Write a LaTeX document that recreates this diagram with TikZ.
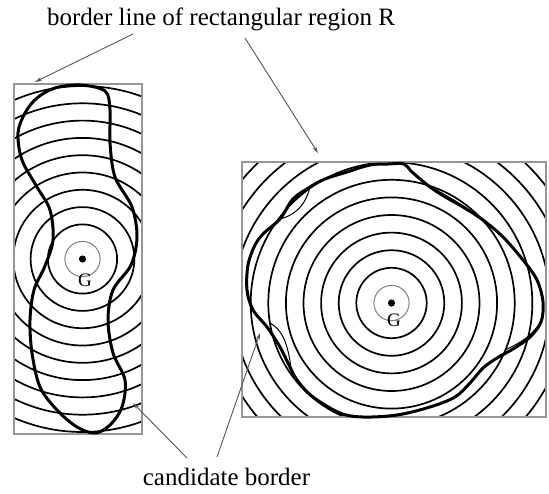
\documentclass[tikz,border=0pt]{standalone}
\usepackage{fontspec}
\setmainfont{Liberation Serif}
\usetikzlibrary{arrows.meta,calc}
\definecolor{RegionGray}{RGB}{150,150,150}
\definecolor{PointerGray}{RGB}{85,85,85}

\begin{document}
\begin{tikzpicture}[x=1pt,y=-1pt,
  region/.style={draw=RegionGray,line width=1.7pt},
  ring/.style={draw=black,line width=1.7pt},
  innerring/.style={draw=gray,line width=1pt},
  cand/.style={draw=black,line width=3pt,line join=round},
  lens/.style={draw=black,line width=1pt},
  ptr/.style={draw=PointerGray,line width=0.9pt,-{Stealth[length=7pt,width=4pt]}},
  lbl/.style={font=\fontsize{25}{28}\selectfont,inner sep=0pt},
  gname/.style={font=\fontsize{19}{21}\selectfont,inner sep=0pt}]
\useasboundingbox (0,0) rectangle (549,493);

% centres of gravity
\coordinate (gL) at (82.5,259);
\coordinate (gR) at (391.5,303);

% left region: rings clipped to the rectangle
\begin{scope}
\clip (14,84) rectangle (142,434);
\draw[innerring] (gL) circle (17.6pt);
\foreach \r in {2,...,11} {
   \draw[ring] (gL) circle (\r*17.3pt);
}
\end{scope}
\draw[region] (14,84) rectangle (142,434);

% right region
\begin{scope}
\clip (242,162) rectangle (546,417);
\draw[innerring] (gR) circle (17.6pt);
\foreach \r in {2,...,12} {
   \draw[ring] (gR) circle (\r*17.6pt);
}
\end{scope}
\draw[region] (242,162) rectangle (546,417);

% candidate borders
\draw[cand] plot[smooth cycle,tension=0.55] coordinates {
   (80,85) (105,91) (110,110) (110,143) (115,177) (132,207) (137,237)
   (131,265) (113,290) (108,320) (113,353) (125,380) (122,407)
   (110,425) (95,433) (77,427) (57,410) (40,387) (32,353) (30,320)
   (34,290) (45,266) (53,240) (50,210) (37,187) (22,160) (18,133)
   (25,113) (37,98) (55,88)};
\draw[cand] plot[smooth cycle,tension=0.55] coordinates {
   (388,164) (404,164) (412,172) (430,187) (447,198) (463,207) (483,220)
   (503,237) (523,260) (537,280) (543,302) (541,322) (530,337)
   (513,349) (497,358) (483,368) (470,383) (455,397) (430,407)
   (397,415) (363,417) (340,413) (313,397) (297,380) (288,363)
   (280,347) (267,327) (253,310) (247,290) (248,265) (255,245)
   (264,233) (280,219) (293,199) (310,187) (325,179) (347,172) (370,165)};
\draw[lens] (280,219) .. controls (292,216) and (305,208) .. (310,187);
\draw[lens] (270,323) .. controls (283,330) and (288,345) .. (291,368);
\draw[lens] (433,188) .. controls (447,196) and (462,204) .. (474,214);
\draw[lens] (505,350) .. controls (520,343) and (533,336) .. (543,318);

% centres
\fill (gL) circle (3.6pt);
\fill (gR) circle (3.6pt);
\node[gname] (gLname) at (85,280) {G};
\node[gname] (gRname) at (394,320) {G};

% labels and pointers
\node[lbl,anchor=base] (title) at (221,25) {border line of rectangular region R};
\node[lbl,anchor=base] (candlbl) at (226.5,485) {candidate border};
\coordinate (tipL) at (35,82);
\coordinate (tipR) at (318,153);
\coordinate (tipCL) at (133,403);
\coordinate (tipCR) at (260,333);
\draw[ptr] ($(title.base)+(-88,9)$) -- (tipL);
\draw[ptr] ($(title.base)+(24,13)$) -- (tipR);
\draw[ptr] ($(candlbl.base)+(-39.5,-27)$) -- (tipCL);
\draw[ptr] ($(candlbl.base)+(-9.5,-28)$) -- (tipCR);
\end{tikzpicture}
\end{document}
